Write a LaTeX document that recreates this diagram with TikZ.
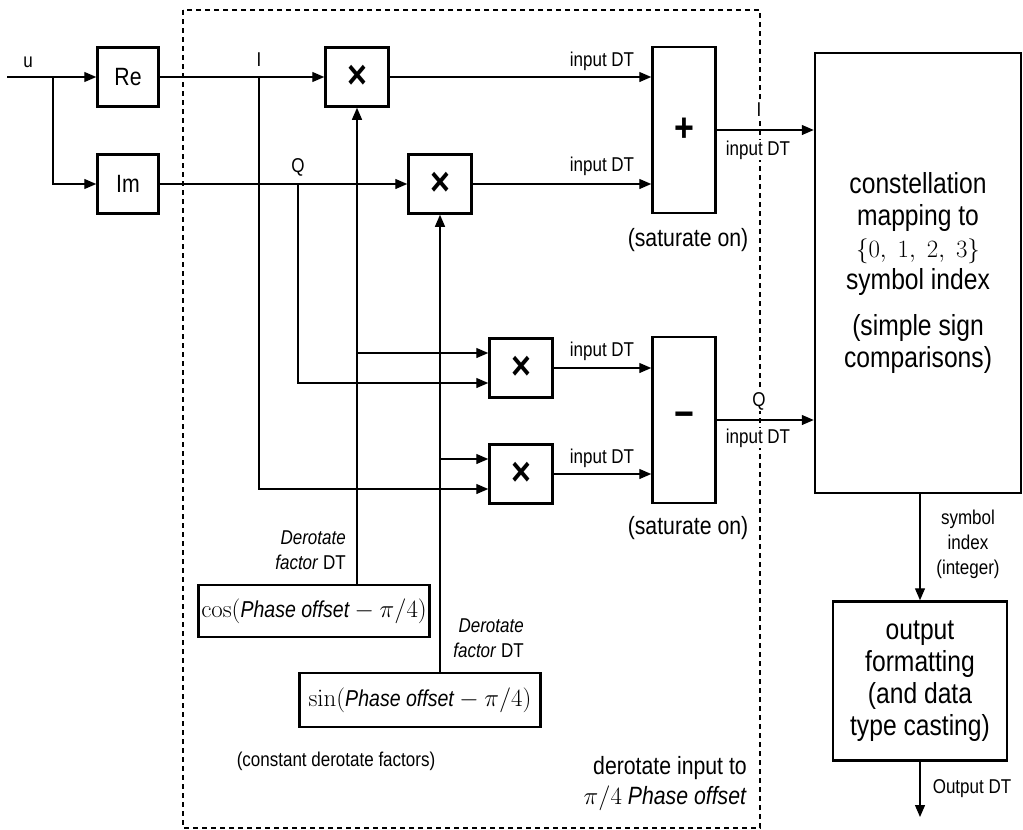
\documentclass[tikz,border=0pt]{standalone}
\usepackage[no-math]{fontspec}
\setmainfont[FakeStretch=0.85]{Liberation Sans}
\usetikzlibrary{positioning, arrows.meta}

\tikzset{
  blk/.style={draw, line width=2.5pt, inner sep=0pt, align=center},
  opblk/.style={blk, minimum width=63pt, minimum height=59pt, font=\fontsize{40}{40}\selectfont\bfseries},
  lbl/.style={inner sep=1pt, font=\fontsize{20}{25}\selectfont},
  midlbl/.style={inner sep=1pt, font=\fontsize{25}{30}\selectfont},
  bigtxt/.style={font=\fontsize{29}{32}\selectfont},
  arr/.style={-{Triangle[length=12pt,width=10pt]}, line width=1.3pt}
}

\begin{document}
\begin{tikzpicture}[x=1pt, y=-1pt]
  \useasboundingbox (0,0) rectangle (1023,830);
  \draw[line width=1.3pt, dash pattern=on 5pt off 4pt] (183,10) rectangle (760,828);

  \node[blk, minimum width=61pt, minimum height=59pt, font=\fontsize{25}{28}\selectfont] (re) at (128,77) {Re};
  \node[blk, minimum width=61pt, minimum height=59pt, font=\fontsize{25}{28}\selectfont] (im) at (128,184) {Im};
  \node[opblk] (m1) at (357,77) {×};
  \node[opblk] (m2) at (440,184) {×};
  \node[opblk] (m3) at (521,368) {×};
  \node[opblk] (m4) at (521,474) {×};
  \node[opblk, minimum height=166pt] (sum) at (684,130) {+};
  \node[opblk, minimum height=166pt] (sub) at (684,420) {−};
  \node[blk, minimum width=231pt, minimum height=52pt, font=\fontsize{23}{28}\selectfont] (cosb) at (314,611)
    {$\cos(\textit{Phase offset} - \pi/4)$};
  \node[blk, minimum width=241pt, minimum height=54pt, font=\fontsize{23}{28}\selectfont] (sinb) at (420,700)
    {$\sin(\textit{Phase offset} - \pi/4)$};
  \node[blk, bigtxt, minimum width=206pt, minimum height=440pt] (map) at (918,273)
    {constellation\\mapping to\\$\{0,\ 1,\ 2,\ 3\}$\\symbol index\\[14pt](simple sign\\comparisons)};
  \node[blk, bigtxt, minimum width=174pt, minimum height=159pt] (outf) at (920,681)
    {output\\formatting\\(and data\\type casting)};

  \coordinate (uin) at (7,77);
  \coordinate (ubr) at (53,77);
  \coordinate (ibr) at (259,77);
  \coordinate (qbr) at (298,184);
  \coordinate (outend) at (920,817);

  \draw[arr] (uin) -- (re);
  \draw[arr] (ubr) |- (im);
  \draw[arr] (re) -- (m1);
  \draw[arr] (im) -- (m2);
  \draw[arr] (ibr) |- ([yshift=-15pt]m4.west);
  \draw[arr] (qbr) |- ([yshift=-15pt]m3.west);
  \draw[arr] (cosb.north -| m1) -- (m1);
  \draw[arr] (sinb.north -| m2) -- (m2);
  \draw[arr] ([yshift=15pt]m3.west -| m1) -- ([yshift=15pt]m3.west);
  \draw[arr] ([yshift=15pt]m4.west -| m2) -- ([yshift=15pt]m4.west);
  \draw[arr] (m1) -- (m1 -| sum.west);
  \draw[arr] (m2) -- (m2 -| sum.west);
  \draw[arr] (m3) -- (m3 -| sub.west);
  \draw[arr] (m4) -- (m4 -| sub.west);
  \draw[arr] (sum) -- (sum -| map.west);
  \draw[arr] (sub) -- (sub -| map.west);
  \draw[arr] (map.south -| outf) -- (outf);
  \draw[arr] (outf) -- (outend);

  \node[lbl] (lu) at (28,62) {u};
  \node[lbl] (li) at (259,60) {I};
  \node[lbl] (lq) at (298,167) {Q};
  \node[lbl] (dt1) at (602,61) {input DT};
  \node[lbl] (dt2) at (602,166) {input DT};
  \node[lbl] (dt3) at (602,351) {input DT};
  \node[lbl] (dt4) at (602,458) {input DT};
  \node[lbl, fill=white] (lio) at (759,110) {I};
  \node[lbl, fill=white] (dti) at (758,150) {input DT};
  \node[lbl, fill=white] (lqo) at (759,401) {Q};
  \node[lbl, fill=white] (dtq) at (758,438) {input DT};
  \node[midlbl] (sat1) at (688,240) {(saturate on)};
  \node[midlbl] (sat2) at (688,528) {(saturate on)};
  \node[lbl, align=right, anchor=east] (fcos) at (347,550) {\textit{Derotate}\\\textit{factor} DT};
  \node[lbl, align=right, anchor=east] (fsin) at (525,638) {\textit{Derotate}\\\textit{factor} DT};
  \node[lbl] (lconst) at (336,761) {(constant derotate factors)};
  \node[midlbl, align=right, anchor=east] (lrot) at (748,784) {derotate input to\\$\pi/4$ \textit{Phase offset}};
  \node[lbl, align=center] (lsym) at (968,544) {symbol\\index\\(integer)};
  \node[lbl] (lout) at (972,789) {Output DT};
\end{tikzpicture}
\end{document}
